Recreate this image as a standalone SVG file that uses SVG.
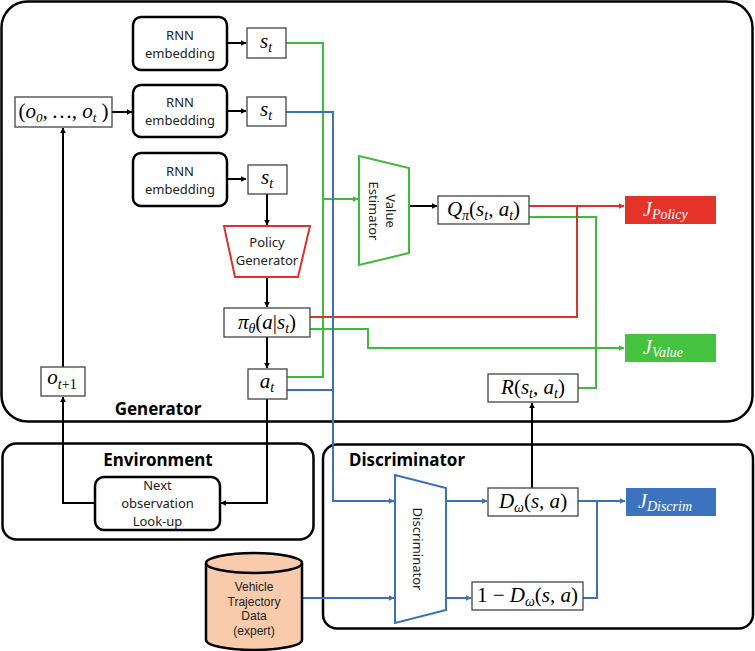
<svg xmlns="http://www.w3.org/2000/svg" width="755" height="651" viewBox="0 0 755 651">
  <defs>
    <marker id="ah-k" viewBox="0 0 10 10" refX="9" refY="5" markerWidth="6" markerHeight="6" markerUnits="userSpaceOnUse" orient="auto"><path d="M0,0 L10,5 L0,10 z" fill="#000"/></marker>
    <marker id="ah-g" viewBox="0 0 10 10" refX="9" refY="5" markerWidth="6" markerHeight="6" markerUnits="userSpaceOnUse" orient="auto"><path d="M0,0 L10,5 L0,10 z" fill="#3dbd3a"/></marker>
    <marker id="ah-r" viewBox="0 0 10 10" refX="9" refY="5" markerWidth="6" markerHeight="6" markerUnits="userSpaceOnUse" orient="auto"><path d="M0,0 L10,5 L0,10 z" fill="#e0302a"/></marker>
    <marker id="ah-b" viewBox="0 0 10 10" refX="9" refY="5" markerWidth="6" markerHeight="6" markerUnits="userSpaceOnUse" orient="auto"><path d="M0,0 L10,5 L0,10 z" fill="#3a72b8"/></marker>
  </defs>
  <style>
    .panel { fill: none; stroke: #000; stroke-width: 2.5; }
    .rnn { fill: #fff; stroke: #000; stroke-width: 2.5; }
    .box { fill: #fff; stroke: #444; stroke-width: 1.3; }
    .sans { font-family: "Noto Sans", "Open Sans", "Liberation Sans", sans-serif; font-size: 13px; fill: #222; }
    .db { font-family: "Liberation Sans", Arial, sans-serif; font-size: 12px; fill: #222; }
    .title { font-family: "Noto Sans", "Open Sans", "Liberation Sans", sans-serif; font-weight: bold; font-size: 17px; fill: #000; }
    .math { font-family: "Liberation Serif", "DejaVu Serif", serif; font-style: italic; font-size: 21px; fill: #000; }
    .jlab { font-family: "Liberation Serif", "DejaVu Serif", serif; font-style: italic; font-size: 20px; fill: #fff; }
    .sub { font-size: 14px; }
    .k { fill: none; stroke: #000; stroke-width: 2; }
    .g { fill: none; stroke: #3dbd3a; stroke-width: 2; }
    .r { fill: none; stroke: #e0302a; stroke-width: 2; }
    .b { fill: none; stroke: #3a72b8; stroke-width: 2; }
  </style>

  <!-- panels -->
  <g id="generator-panel">
    <rect class="panel" x="1.5" y="1.5" width="751" height="420" rx="26"/>
    <text class="title" x="158" y="415" text-anchor="middle">Generator</text>
  </g>
  <g id="environment-panel">
    <rect class="panel" x="2.5" y="443.5" width="311" height="96" rx="14"/>
    <text class="title" x="158" y="466" text-anchor="middle" font-size="18">Environment</text>
  </g>
  <g id="discriminator-panel">
    <rect class="panel" x="323" y="444.5" width="430" height="184" rx="14"/>
    <text class="title" x="349" y="466">Discriminator</text>
  </g>

  <!-- connectors -->
  <g id="connectors">
    <!-- black -->
    <path class="k" d="M112,112 H132" marker-end="url(#ah-k)"/>
    <path class="k" d="M227,43 H246" marker-end="url(#ah-k)"/>
    <path class="k" d="M227,111 H246" marker-end="url(#ah-k)"/>
    <path class="k" d="M227,179 H246" marker-end="url(#ah-k)"/>
    <path class="k" d="M267,194 V225" marker-end="url(#ah-k)"/>
    <path class="k" d="M267,277 V307" marker-end="url(#ah-k)"/>
    <path class="k" d="M267,337 V368" marker-end="url(#ah-k)"/>
    <path class="k" d="M267,399 V503 H221" marker-end="url(#ah-k)"/>
    <path class="k" d="M95,503 H63 V397" marker-end="url(#ah-k)"/>
    <path class="k" d="M63,367 V128" marker-end="url(#ah-k)"/>
    <path class="k" d="M409,206 H437" marker-end="url(#ah-k)"/>
    <path class="k" d="M532,488 V403" marker-end="url(#ah-k)"/>
    <!-- green -->
    <path class="g" d="M286,43 H323 V377 H287"/>
    <path class="g" d="M323,199 H358" marker-end="url(#ah-g)"/>
    <path class="g" d="M529,217 H596 V388 H578"/>
    <path class="g" d="M310,329 H368 V348 H624" marker-end="url(#ah-g)"/>
    <!-- red -->
    <path class="r" d="M529,206 H624" marker-end="url(#ah-r)"/>
    <path class="r" d="M577,206 V317 H310"/>
    <!-- blue -->
    <path class="b" d="M286,112 H333 V501 H394" marker-end="url(#ah-b)"/>
    <path class="b" d="M287,390 H333"/>
    <path class="b" d="M302,598 H394" marker-end="url(#ah-b)"/>
    <path class="b" d="M446,501 H487" marker-end="url(#ah-b)"/>
    <path class="b" d="M446,598 H471" marker-end="url(#ah-b)"/>
    <path class="b" d="M578,501 H625" marker-end="url(#ah-b)"/>
    <path class="b" d="M583,598 H597 V501"/>
  </g>

  <!-- observation history -->
  <g id="obs-history">
    <rect class="box" x="15" y="97" width="97" height="30"/>
    <text class="math" font-size="19" x="63.5" y="118" text-anchor="middle"><tspan font-style="normal">(</tspan>o<tspan font-size="13" dy="4">0</tspan><tspan dy="-4">, …, o</tspan><tspan font-size="13" dy="4">t</tspan><tspan dy="-4" font-style="normal"> )</tspan></text>
  </g>

  <!-- RNN embeddings -->
  <g id="rnn-1">
    <rect class="rnn" x="133" y="17" width="94" height="53" rx="8"/>
    <text class="sans" x="180" y="40" text-anchor="middle">RNN</text>
    <text class="sans" x="180" y="58" text-anchor="middle">embedding</text>
  </g>
  <g id="rnn-2">
    <rect class="rnn" x="133" y="85" width="94" height="52" rx="8"/>
    <text class="sans" x="180" y="107" text-anchor="middle">RNN</text>
    <text class="sans" x="180" y="125" text-anchor="middle">embedding</text>
  </g>
  <g id="rnn-3">
    <rect class="rnn" x="133" y="153" width="94" height="53" rx="8"/>
    <text class="sans" x="180" y="176" text-anchor="middle">RNN</text>
    <text class="sans" x="180" y="194" text-anchor="middle">embedding</text>
  </g>

  <!-- state boxes -->
  <g id="state-1">
    <rect class="box" x="247" y="28" width="39" height="30"/>
    <text class="math" x="266" y="48" text-anchor="middle">s<tspan class="sub" dy="4">t</tspan></text>
  </g>
  <g id="state-2">
    <rect class="box" x="247" y="97" width="39" height="29"/>
    <text class="math" x="266" y="116" text-anchor="middle">s<tspan class="sub" dy="4">t</tspan></text>
  </g>
  <g id="state-3">
    <rect class="box" x="248" y="165" width="39" height="29"/>
    <text class="math" x="267" y="184" text-anchor="middle">s<tspan class="sub" dy="4">t</tspan></text>
  </g>

  <!-- policy generator -->
  <g id="policy-generator">
    <path d="M224,226 H310 L298,277 H235 Z" fill="#fff" stroke="#e0302a" stroke-width="2"/>
    <text class="sans" x="267" y="247" text-anchor="middle">Policy</text>
    <text class="sans" x="267" y="265" text-anchor="middle">Generator</text>
  </g>

  <!-- policy output -->
  <g id="policy">
    <rect class="box" x="224" y="308" width="86" height="29"/>
    <text class="math" x="267" y="329" text-anchor="middle">π<tspan class="sub" dy="4">θ</tspan><tspan dy="-4"><tspan font-style="normal">(</tspan>a<tspan font-style="normal">|</tspan>s</tspan><tspan class="sub" dy="4">t</tspan><tspan dy="-4" font-style="normal">)</tspan></text>
  </g>

  <!-- action -->
  <g id="action">
    <rect class="box" x="248" y="369" width="39" height="30"/>
    <text class="math" x="267" y="388" text-anchor="middle">a<tspan class="sub" dy="4">t</tspan></text>
  </g>

  <!-- next observation -->
  <g id="next-obs">
    <rect class="box" x="41" y="367" width="44" height="29"/>
    <text class="math" x="62" y="384" text-anchor="middle">o<tspan font-size="14" dy="5" font-style="normal"><tspan font-style="italic">t</tspan>+1</tspan></text>
  </g>

  <!-- value estimator -->
  <g id="value-estimator">
    <path d="M359,156 L409,168 V253 L359,265 Z" fill="#fff" stroke="#3dbd3a" stroke-width="2"/>
    <text class="sans" transform="translate(390,211) rotate(90)" x="0" y="4.5" text-anchor="middle">Value</text>
    <text class="sans" transform="translate(373,211) rotate(90)" x="0" y="4.5" text-anchor="middle">Estimator</text>
  </g>

  <!-- Q value -->
  <g id="q-value">
    <rect class="box" x="438" y="196" width="91" height="28"/>
    <text class="math" x="483.5" y="216" text-anchor="middle">Q<tspan class="sub" dy="4">π</tspan><tspan dy="-4" font-style="normal">(</tspan>s<tspan class="sub" dy="4">t</tspan><tspan dy="-4">, a</tspan><tspan class="sub" dy="4">t</tspan><tspan dy="-4" font-style="normal">)</tspan></text>
  </g>

  <!-- reward -->
  <g id="reward">
    <rect class="box" x="488" y="374" width="90" height="28"/>
    <text class="math" x="533" y="394" text-anchor="middle">R<tspan font-style="normal">(</tspan>s<tspan class="sub" dy="4">t</tspan><tspan dy="-4">, a</tspan><tspan class="sub" dy="4">t</tspan><tspan dy="-4" font-style="normal">)</tspan></text>
  </g>

  <!-- objectives -->
  <g id="j-policy">
    <rect x="625" y="196" width="91" height="28" fill="#e5332a"/>
    <text class="jlab" x="643" y="216">J<tspan font-size="14" dy="3">Policy</tspan></text>
  </g>
  <g id="j-value">
    <rect x="625" y="334" width="91" height="28" fill="#45c23f"/>
    <text class="jlab" x="643" y="354">J<tspan font-size="14" dy="3">Value</tspan></text>
  </g>
  <g id="j-discrim">
    <rect x="626" y="488" width="90" height="28" fill="#3d73be"/>
    <text class="jlab" x="638" y="508">J<tspan font-size="14" dy="3">Discrim</tspan></text>
  </g>

  <!-- next observation lookup -->
  <g id="lookup">
    <rect class="rnn" x="95" y="477" width="125" height="53" rx="9"/>
    <text class="sans" font-size="12.5" x="157.5" y="490" text-anchor="middle">Next</text>
    <text class="sans" font-size="12.5" x="157.5" y="508" text-anchor="middle">observation</text>
    <text class="sans" font-size="12.5" x="157.5" y="526" text-anchor="middle">Look-up</text>
  </g>

  <!-- expert data store -->
  <g id="expert-data">
    <path d="M206,563 V640 A48,10 0 0 0 302,640 V563" fill="#f8cbad" stroke="#000" stroke-width="2.5"/>
    <ellipse cx="254" cy="563" rx="48" ry="10" fill="#f8cbad" stroke="#000" stroke-width="2.5"/>
    <text class="db" x="254" y="591" text-anchor="middle">Vehicle</text>
    <text class="db" x="254" y="605.5" text-anchor="middle">Trajectory</text>
    <text class="db" x="254" y="620" text-anchor="middle">Data</text>
    <text class="db" x="254" y="634.5" text-anchor="middle">(expert)</text>
  </g>

  <!-- discriminator network -->
  <g id="discriminator">
    <path d="M395,475 L446,488 V610 L395,623 Z" fill="#fff" stroke="#3a72b8" stroke-width="2"/>
    <text class="sans" transform="translate(417,549) rotate(90)" x="0" y="4.5" text-anchor="middle">Discriminator</text>
  </g>

  <!-- discriminator outputs -->
  <g id="d-real">
    <rect class="box" x="488" y="488" width="90" height="28"/>
    <text class="math" x="533" y="508" text-anchor="middle">D<tspan class="sub" dy="4">ω</tspan><tspan dy="-4" font-style="normal">(</tspan>s, a<tspan font-style="normal">)</tspan></text>
  </g>
  <g id="d-fake">
    <rect class="box" x="472" y="582" width="111" height="28"/>
    <text class="math" x="527.5" y="602" text-anchor="middle"><tspan font-style="normal">1 − </tspan>D<tspan class="sub" dy="4">ω</tspan><tspan dy="-4" font-style="normal">(</tspan>s, a<tspan font-style="normal">)</tspan></text>
  </g>
</svg>
